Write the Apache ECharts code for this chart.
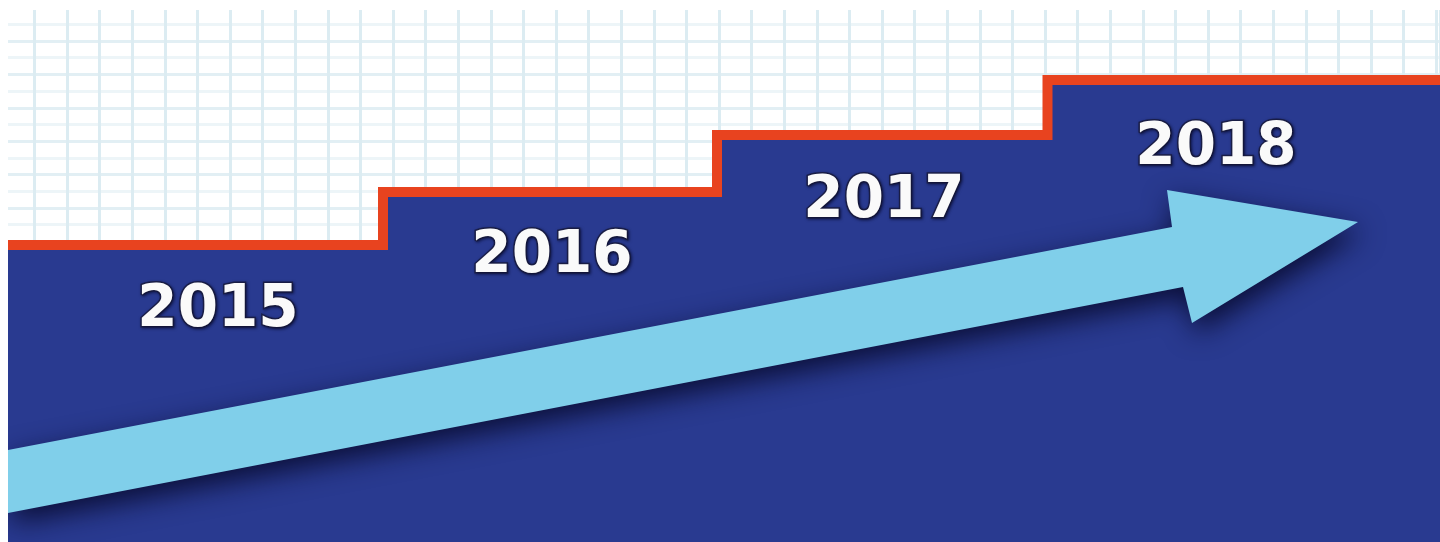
<!DOCTYPE html>
<html>
<head>
<meta charset="utf-8">
<script src="https://cdn.jsdelivr.net/npm/echarts@6/dist/echarts.min.js"></script>
<style>
html,body{margin:0;padding:0;background:#fff;}
#chart{width:1440px;height:542px;}
</style>
</head>
<body>
<div id="chart"></div>
<script>
// ---- data ----
var years = ['2015', '2016', '2017', '2018'];
// step boundaries along x (units of the drawing scale)
var stepEdges = [0, 375, 709, 1039.5, 1432];
// step heights (y measured upward from the bottom)
var stepLevels = [297, 350, 407, 462];
// year label anchor positions
var labelX = [210, 544, 876, 1208];
var labelY = [231, 285, 340, 393];
// arrow outline (x, y)
var arrowX = [0, 1164, 1159, 1350, 1184, 1175, 0];
var arrowY = [92, 315, 352, 320, 219, 255, 29];

// ---- build ----
var stepPoints = [];
for (var i = 0; i < stepLevels.length; i++) {
  stepPoints.push([stepEdges[i], stepLevels[i]]);
  stepPoints.push([stepEdges[i + 1], stepLevels[i]]);
}
var labelData = years.map(function (y, i) { return { value: [labelX[i], labelY[i]], name: y }; });

var chart = echarts.init(document.getElementById('chart'), null, { renderer: 'canvas' });
var option = {
  animation: false,
  backgroundColor: '#ffffff',
  grid: [
    { left: 1.9, right: 0, top: 0, bottom: 0, containLabel: false },
    { left: 8, right: 0, top: 10, bottom: 0, containLabel: false }
  ],
  xAxis: [
    { type: 'value', gridIndex: 0, min: 0, max: 1438.1, interval: 32.6,
      axisLine: { show: false }, axisTick: { show: false }, axisLabel: { show: false },
      splitLine: { show: true, lineStyle: { color: '#dcecf2', width: 3 } } },
    { type: 'value', gridIndex: 1, min: 0, max: 1432, show: false, splitLine: { show: false } }
  ],
  yAxis: [
    { type: 'value', gridIndex: 0, min: 0, max: 542, interval: 16.7,
      axisLine: { show: false }, axisTick: { show: false }, axisLabel: { show: false },
      splitLine: { show: true, lineStyle: { color: ['#e2eff4', '#edf5f8'], width: 3 } } },
    { type: 'value', gridIndex: 1, min: 0, max: 532, show: false, splitLine: { show: false } }
  ],
  series: [
    {
      type: 'line',
      xAxisIndex: 1, yAxisIndex: 1,
      data: stepPoints,
      symbol: 'none',
      lineStyle: { color: '#e8431f', width: 10, join: 'miter', cap: 'butt' },
      areaStyle: { color: '#293a90', opacity: 1, origin: 'start' },
      z: 2
    },
    {
      type: 'custom',
      xAxisIndex: 1, yAxisIndex: 1,
      data: [0],
      z: 3,
      renderItem: function (params, api) {
        var pts = arrowX.map(function (x, i) { return api.coord([x, arrowY[i]]); });
        return {
          type: 'polygon',
          shape: { points: pts },
          style: {
            fill: '#80cfea',
            shadowBlur: 28,
            shadowColor: 'rgba(8,10,45,0.9)',
            shadowOffsetX: 4,
            shadowOffsetY: 10
          }
        };
      }
    },
    {
      type: 'scatter',
      xAxisIndex: 1, yAxisIndex: 1,
      data: labelData,
      symbolSize: 0,
      itemStyle: { opacity: 1 },
      z: 4,
      label: {
        show: true,
        position: 'inside',
        formatter: '{b}',
        fontFamily: 'DejaVu Sans',
        fontWeight: 'bold',
        fontSize: 58,
        color: '#fafafa',
        opacity: 1,
        textBorderColor: '#1b1f48',
        textBorderWidth: 3,
        textShadowColor: 'rgba(0,0,30,0.5)',
        textShadowBlur: 3,
        textShadowOffsetX: 1,
        textShadowOffsetY: 1
      },
      emphasis: { disabled: true }
    }
  ],
  graphic: [
    { type: 'rect', left: 0, top: 0, shape: { width: 8, height: 542 }, style: { fill: '#ffffff' }, z: 100 },
    { type: 'rect', left: 0, top: 0, shape: { width: 1440, height: 10 }, style: { fill: '#ffffff' }, z: 100 }
  ]
};
chart.setOption(option);
</script>
</body>
</html>
